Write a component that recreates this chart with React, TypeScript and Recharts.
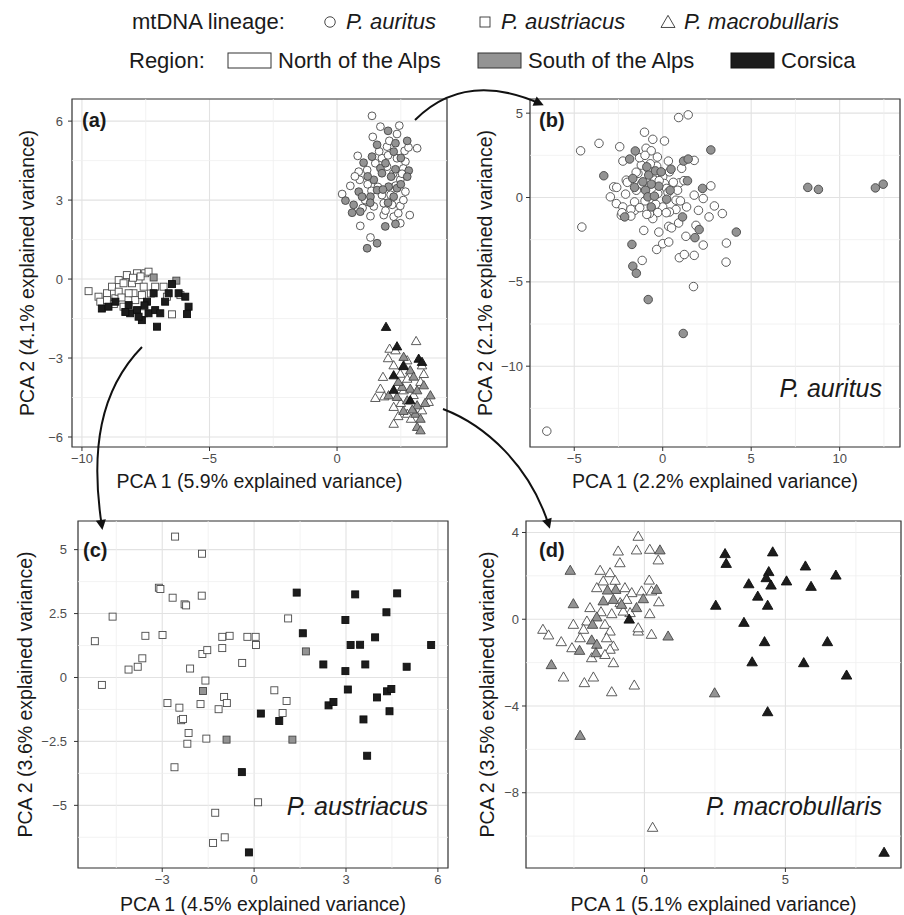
import React from 'react';
import {
  ScatterChart,
  Scatter,
  XAxis,
  YAxis,
  CartesianGrid,
  ReferenceLine,
  ReferenceArea,
  Label,
} from 'recharts';

type P = [number, number];

// ---------- Panel (a): all individuals ----------
const aXDomain: P = [-10.39, 4.31];
const aYDomain: P = [-6.38, 6.84];
const aXTicks = [-10, -5, 0];
const aXMinor = [-7.5, -2.5, 2.5];
const aYTicks = [-6, -3, 0, 3, 6];
const aYMinor = [-4.5, -1.5, 1.5, 4.5];

const aAuritusNorth: P[] = [
  [1.37, 6.2], [1.7, 5.79], [2.44, 5.83], [2.35, 5.51], [1.96, 5.03], [3.14, 4.97], [2.65, 4.87],
  [0.81, 4.68], [1.76, 4.59], [2.35, 4.59], [2.68, 4.46], [0.85, 4.08], [1.18, 4.14], [1.96, 4.27],
  [2.48, 3.77], [0.89, 3.77], [0.52, 3.54], [2.68, 3.32], [0.2, 3.23], [1.76, 3.19], [1.18, 2.94],
  [1.44, 2.76], [1.83, 2.88], [2.16, 2.82], [2.48, 2.78], [1.31, 2.39], [1.83, 2.43], [2.22, 2.37],
  [2.85, 2.43], [0.91, 2.02], [2.48, 2.12], [1.31, 1.58], [1.5, 4.4], [2.0, 4.7], [2.6, 4.2],
  [1.2, 3.6], [1.6, 3.5], [2.1, 3.2], [2.6, 3.0], [1.0, 2.7], [1.9, 2.6], [2.2, 4.0], [1.4, 5.4],
  [2.8, 5.0], [1.1, 3.0], [2.4, 2.5], [0.7, 3.9], [2.05, 5.25], [1.65, 4.85], [2.55, 4.0],
  [1.35, 3.35], [2.3, 3.55],
];
const aAuritusSouth: P[] = [
  [2.0, 5.63], [2.75, 5.25], [1.57, 5.1], [2.29, 5.16], [2.22, 4.84], [1.04, 4.42], [1.37, 4.65],
  [1.7, 4.21], [2.29, 4.17], [2.81, 4.12], [1.44, 3.77], [1.76, 4.02], [2.12, 3.89], [2.75, 3.89],
  [1.57, 3.38], [2.02, 3.51], [2.35, 3.45], [0.85, 3.32], [0.33, 2.98], [0.98, 3.13], [1.31, 3.13],
  [2.22, 3.13], [0.65, 2.82], [0.59, 2.52], [0.91, 2.56], [1.89, 2.0], [2.29, 2.09], [1.57, 1.36],
  [1.18, 1.17], [1.9, 4.4], [2.5, 4.6], [1.2, 3.9], [1.8, 3.4], [2.5, 3.6], [1.3, 2.9], [2.0, 2.9],
];
const aAustriacusNorth: P[] = [
  [-9.74, -0.46], [-9.35, -0.67], [-9.28, -0.86], [-9.02, -0.54], [-8.82, -0.29], [-8.69, -0.73],
  [-8.56, -0.04], [-8.37, -0.16], [-8.24, 0.15], [-8.37, -1.05], [-8.04, -0.16], [-7.98, -0.54],
  [-7.91, -0.8], [-7.84, 0.22], [-7.78, -0.04], [-7.58, -0.29], [-7.52, 0.22], [-7.39, 0.28],
  [-7.65, -0.61], [-7.58, -1.3], [-7.13, -0.29], [-6.8, -0.29], [-6.67, -0.67], [-6.47, -1.34],
  [-6.14, -0.61], [-8.17, -0.54], [-8.56, -0.48], [-9.02, -0.8], [-8.75, -0.95], [-8.0, 0.05],
  [-7.7, 0.1], [-8.45, -0.7], [-7.3, -0.55],
];
const aAustriacusSouth: P[] = [[-7.19, 0.06], [-6.3, -0.06]];
const aAustriacusCorsica: P[] = [
  [-9.22, -1.12], [-8.96, -1.05], [-8.69, -0.86], [-8.11, -1.3], [-7.84, -1.18], [-7.65, -1.56],
  [-7.45, -0.86], [-7.39, -1.3], [-7.13, -1.18], [-7.06, -1.81], [-6.74, -0.86], [-6.47, -0.19],
  [-6.21, -0.54], [-5.95, -0.67], [-5.82, -1.05], [-5.88, -1.33], [-7.19, -0.54], [-8.17, -0.99],
  [-7.78, -1.43], [-6.93, -1.3], [-6.6, -0.54], [-7.55, -1.0], [-8.3, -1.25],
];
const aMacroNorth: P[] = [
  [2.06, -2.64], [2.29, -2.7], [3.1, -2.35], [2.75, -3.08], [3.33, -3.27], [2.22, -3.27], [1.8, -3.71],
  [2.48, -3.59], [2.75, -3.78], [1.7, -4.16], [1.5, -4.51], [2.61, -4.22], [3.27, -3.9], [3.59, -4.66],
  [2.22, -4.85], [2.75, -5.11], [3.33, -4.98], [2.22, -5.49], [2.5, -4.7], [3.0, -4.4], [2.0, -3.0],
  [2.9, -5.3], [2.4, -5.2], [3.4, -3.6], [1.85, -4.45],
];
const aMacroSouth: P[] = [
  [2.61, -2.95], [2.61, -3.27], [2.87, -3.46], [2.55, -4.09], [2.02, -4.41], [2.35, -4.47],
  [2.87, -4.16], [3.14, -4.22], [3.4, -4.03], [3.66, -4.41], [2.75, -4.6], [3.14, -4.79],
  [3.07, -5.11], [3.27, -5.3], [3.14, -5.61], [3.27, -5.74], [2.4, -3.9], [3.0, -3.7], [2.6, -5.0],
  [2.95, -4.95], [3.45, -4.7],
];
const aMacroCorsica: P[] = [
  [1.92, -1.81], [2.35, -2.55], [3.2, -3.02], [3.33, -3.14], [2.22, -3.65], [2.22, -4.2], [2.87, -4.6],
  [2.6, -3.3],
];

// ---------- Panel (b): P. auritus ----------
const bXDomain: P = [-7.5, 13.41];
const bYDomain: P = [-14.79, 5.84];
const bXTicks = [-5, 0, 5, 10];
const bXMinor = [-2.5, 2.5, 7.5, 12.5];
const bYTicks = [-10, -5, 0, 5];
const bYMinor = [-12.5, -7.5, -2.5, 2.5];

const bAuritusNorth: P[] = [
  [-6.55, -13.85], [-4.64, 2.77], [-3.6, 3.21], [-4.57, -1.75], [-2.43, 3.01], [-2.25, 2.16],
  [-1.03, 3.87], [-0.56, 3.45], [0.1, 3.35], [0.9, 4.74], [1.44, 4.9], [-2.06, 1.03], [-2.77, 0.63],
  [-2.96, 0.04], [-2.62, -0.36], [-1.07, -1.95], [-1.16, -3.73], [-0.34, -3.08], [-0.22, -2.05],
  [0.34, -1.71], [0.94, -3.57], [0.9, -1.51], [1.31, -2.3], [1.78, -3.43], [1.74, -5.28],
  [1.88, -1.65], [2.29, -2.82], [2.02, -0.76], [2.29, -0.06], [1.78, 0.14], [2.72, 0.69],
  [2.92, -0.5], [2.62, -1.15], [3.37, -0.95], [3.6, -2.7], [3.58, -3.83], [1.78, 2.2], [0.94, 0.87],
  [1.07, 1.73], [0.32, 2.16], [0.38, 1.52], [1.35, -0.56], [0.84, 0.43], [0.75, -0.16],
  [0.75, -0.71], [0.0, -0.56], [-0.28, -0.89], [-0.56, -1.25], [-1.59, -0.26], [-1.49, 0.43],
  [-1.21, 1.92], [-0.34, 1.86], [-0.47, 1.03], [-0.94, 2.92], [-0.65, 2.77], [-1.31, 2.36],
  [-2.25, -0.56], [-2.34, -1.05], [-1.59, -0.76], [0.0, -2.74], [0.34, -2.64], [1.22, -3.38],
  [0.38, -0.86], [-0.75, -0.95], [-1.03, -0.6], [-1.4, 1.43], [-0.84, 1.73], [0.0, 1.23],
  [0.1, 0.83], [0.22, 0.54], [-0.28, 0.24], [-1.5, 1.5], [-2.0, 0.9], [-1.0, 2.5], [-0.7, 2.0],
  [-0.2, 1.0], [0.3, 0.3], [-1.3, -0.6], [-2.3, -0.9], [-1.8, -0.7], [-0.9, -1.0], [0.6, 0.9],
  [-2.6, 0.6], [-1.2, 0.8], [-0.4, -0.4], [0.2, -0.9], [-1.0, -0.2], [-0.3, 2.4], [-2.1, 0.2],
  [1.2, 1.0], [1.0, -0.2], [0.5, -1.8], [-1.8, -1.1],
];
const bAuritusSouth: P[] = [
  [-3.33, 1.29], [-1.87, 2.28], [-1.55, 2.76], [-0.9, 1.82], [-1.69, 1.13], [-1.59, 0.6],
  [-1.12, 0.93], [-0.79, 1.33], [-0.41, 1.58], [-0.09, 1.52], [0.47, 1.68], [1.18, 2.16],
  [1.44, 2.28], [2.72, 2.82], [1.4, 0.99], [2.25, 0.54], [0.42, 0.43], [-0.22, 0.67], [-0.65, 0.79],
  [-0.97, 0.43], [-0.84, 0.04], [-0.47, 0.08], [-0.65, -0.56], [0.22, -0.1], [-2.15, -1.15],
  [1.12, -1.15], [2.06, -1.9], [1.82, -2.38], [4.16, -2.05], [-1.74, -2.78], [-1.69, -4.07],
  [-1.49, -4.49], [-0.82, -6.05], [1.16, -8.06], [8.2, 0.6], [8.8, 0.48], [12.02, 0.57],
  [12.46, 0.79],
];

// ---------- Panel (c): P. austriacus ----------
const cXDomain: P = [-5.75, 6.33];
const cYDomain: P = [-7.45, 6.12];
const cXTicks = [-3, 0, 3, 6];
const cXMinor = [-4.5, -1.5, 1.5, 4.5];
const cYTicks = [-5, -2.5, 0, 2.5, 5];
const cYMinor = [-6.25, -3.75, -1.25, 1.25, 3.75];

const cAustriacusNorth: P[] = [
  [-2.58, 5.51], [-1.7, 4.84], [-3.11, 3.51], [-3.06, 3.46], [-2.66, 3.12], [-2.27, 2.86],
  [-2.22, 2.82], [-1.71, 3.2], [-4.62, 2.38], [-5.2, 1.42], [-3.55, 1.63], [-2.99, 1.66],
  [-3.65, 0.75], [-3.8, 0.42], [-4.1, 0.31], [-4.97, -0.29], [-2.09, 0.35], [-1.69, 0.92],
  [-1.53, 1.07], [-1.59, -0.12], [-2.83, -1.0], [-2.44, -1.18], [-2.38, -1.67], [-2.32, -1.62],
  [-2.14, -2.17], [-2.18, -2.59], [-1.75, -1.04], [-1.56, -2.39], [-2.6, -3.51], [-1.04, 1.59],
  [-0.8, 1.63], [-1.04, 1.15], [-0.39, 0.57], [-0.22, 1.59], [0.05, 1.59], [0.06, 1.27],
  [-1.16, -1.24], [-0.98, -0.76], [-0.89, -1.0], [1.11, 2.31], [0.66, -0.5], [1.06, -0.92],
  [0.93, -1.39], [0.13, -4.88], [-1.27, -5.29], [-1.34, -6.47], [-0.96, -6.25],
];
const cAustriacusSouth: P[] = [[-1.67, -0.53], [-0.9, -2.43], [1.69, 1.02], [1.25, -2.43]];
const cAustriacusCorsica: P[] = [
  [1.39, 3.32], [1.59, 1.73], [0.22, -1.41], [0.82, -1.7], [-0.4, -3.7], [-0.17, -6.84], [2.26, 0.51],
  [2.98, 2.25], [3.3, 3.25], [4.67, 3.29], [4.32, 2.55], [3.15, 1.27], [3.46, 1.28], [3.95, 1.57],
  [5.78, 1.27], [2.98, 0.25], [3.63, 0.51], [4.98, 0.42], [3.06, -0.47], [2.43, -1.09],
  [2.59, -0.96], [4.01, -0.78], [4.34, -0.54], [4.48, -0.45], [4.42, -1.32], [3.57, -1.64],
  [3.69, -3.06],
];

// ---------- Panel (d): P. macrobullaris ----------
const dXDomain: P = [-4.2, 9.1];
const dYDomain: P = [-11.47, 4.53];
const dXTicks = [0, 5];
const dXMinor = [-2.5, 2.5, 7.5];
const dYTicks = [-8, -4, 0, 4];
const dYMinor = [-10, -6, -2, 2];

const dMacroNorth: P[] = [
  [-0.22, 3.83], [-0.93, 3.15], [-0.28, 3.2], [0.19, 3.23], [0.49, 2.74], [-0.87, 2.61], [-1.57, 2.26],
  [-1.22, 2.15], [-1.46, 1.77], [-1.04, 1.8], [-1.69, 1.46], [-0.69, 1.46], [-0.45, 1.23],
  [-0.1, 1.31], [0.17, 1.81], [0.25, 1.31], [0.51, 0.81], [0.19, 0.26], [-1.93, 0.54], [-2.04, -0.08],
  [-1.54, 0.35], [-1.16, 0.26], [-1.4, -0.23], [-2.52, -0.23], [-2.16, -0.46], [-3.6, -0.46],
  [-3.4, -0.72], [-2.95, -1.03], [-2.57, -1.31], [-2.28, -0.85], [-1.22, -0.54], [-1.34, -0.85],
  [-1.1, -1.23], [-1.22, -1.38], [-1.4, -1.62], [-1.87, -1.77], [-1.1, -2.0], [-2.87, -2.66],
  [-2.13, -2.92], [-1.81, -2.66], [-1.16, -3.34], [-0.36, -3.03], [-0.22, -0.54], [0.25, -0.69],
  [-0.51, 0.31], [-0.75, 0.38], [-0.86, 0.77], [-0.63, 0.92], [-0.22, -0.39], [0.29, -9.59],
];
const dMacroSouth: P[] = [
  [-2.63, 2.26], [-2.52, 0.72], [-3.3, -2.09], [-2.28, -5.35], [0.55, 3.2], [0.43, 1.38], [-0.04, 0.95],
  [-0.28, 0.54], [-0.81, 0.69], [-1.02, 1.38], [-1.31, 1.35], [-1.1, 0.92], [-1.46, 0.85],
  [-1.69, 0.11], [-1.84, -0.23], [-1.87, -0.95], [-1.69, -1.15], [-1.72, -1.54], [-2.3, -1.43],
  [0.84, -0.77], [2.49, -3.39],
];
const dMacroCorsica: P[] = [
  [2.86, 3.03], [2.9, 2.58], [4.55, 3.11], [5.71, 2.46], [6.79, 2.04], [3.7, 1.64], [4.41, 2.2],
  [4.32, 1.92], [4.49, 1.58], [5.04, 1.77], [5.91, 1.52], [4.02, 1.07], [4.37, 0.65], [2.53, 0.65],
  [3.53, -0.14], [4.26, -1.03], [6.49, -1.03], [3.82, -1.96], [5.65, -2.0], [7.17, -2.57],
  [4.37, -4.26], [-0.54, 0.01], [8.5, -10.74],
];

// ---------- styling ----------
const FONT = '"Liberation Sans", Arial, Helvetica, sans-serif';
type Region = 'north' | 'south' | 'corsica';
type Kind = 'circle' | 'square' | 'triangle';
const FILL: Record<Region, string> = { north: '#ffffff', south: '#939393', corsica: '#1c1c1c' };
const STROKE: Record<Region, string> = { north: '#4a4a4a', south: '#454545', corsica: '#0e0e0e' };

const toPts = (arr: P[]) => arr.map(([x, y]) => ({ x, y }));
const fmt = (v: number) => String(v).replace('-', '\u2212');

function Glyph({ kind, cx, cy, size, fill, stroke }: { kind: Kind; cx: number; cy: number; size: number; fill: string; stroke: string }) {
  if (kind === 'circle') {
    return <circle cx={cx} cy={cy} r={size / 2} fill={fill} stroke={stroke} strokeWidth={0.9} />;
  }
  if (kind === 'square') {
    return <rect x={cx - size / 2} y={cy - size / 2} width={size} height={size} fill={fill} stroke={stroke} strokeWidth={0.9} />;
  }
  const h = size * 0.866;
  return (
    <polygon
      points={`${cx},${cy - h * 0.55} ${cx - size / 2},${cy + h * 0.45} ${cx + size / 2},${cy + h * 0.45}`}
      fill={fill}
      stroke={stroke}
      strokeWidth={0.9}
      strokeLinejoin="miter"
    />
  );
}

const makeShape = (kind: Kind, region: Region, size: number) => (props: any) => {
  const { cx, cy } = props;
  if (cx == null || cy == null) return <g />;
  return <Glyph kind={kind} cx={cx} cy={cy} size={size} fill={FILL[region]} stroke={STROKE[region]} />;
};

type Series = { data: P[]; kind: Kind; region: Region; size: number };

type PanelProps = {
  left: number;
  top: number;
  width: number;
  height: number;
  margin: { top: number; right: number; bottom: number; left: number };
  yAxisWidth: number;
  xAxisHeight: number;
  xDomain: P;
  yDomain: P;
  xTicks: number[];
  yTicks: number[];
  xMinor: number[];
  yMinor: number[];
  xTitle: string;
  yTitle: string;
  xTitleOffset: number;
  yTitleOffset: number;
  yTickMargin: number;
  series: Series[];
};

function Panel(p: PanelProps) {
  const tickStyle = { fill: '#4d4d4d', fontSize: 13, fontFamily: FONT };
  const titleStyle = { fill: '#1a1a1a', fontSize: 19.5, fontFamily: FONT };
  return (
    <div style={{ position: 'absolute', left: p.left, top: p.top }}>
      <ScatterChart width={p.width} height={p.height} margin={p.margin} style={{ fontFamily: FONT }}>
        <CartesianGrid stroke="#e2e2e2" strokeWidth={1.1} />
        {p.xMinor.map((v) => (
          <ReferenceLine key={`xm${v}`} x={v} stroke="#efefef" strokeWidth={0.8} />
        ))}
        {p.yMinor.map((v) => (
          <ReferenceLine key={`ym${v}`} y={v} stroke="#efefef" strokeWidth={0.8} />
        ))}
        <XAxis
          type="number"
          dataKey="x"
          domain={p.xDomain}
          ticks={p.xTicks}
          interval={0}
          allowDataOverflow
          tickFormatter={fmt}
          axisLine={false}
          tickLine={{ stroke: '#333333' }}
          tickSize={4}
          tickMargin={3}
          tick={tickStyle}
          height={p.xAxisHeight}
        >
          <Label value={p.xTitle} position="insideBottom" offset={p.xTitleOffset} style={titleStyle} />
        </XAxis>
        <YAxis
          type="number"
          dataKey="y"
          domain={p.yDomain}
          ticks={p.yTicks}
          interval={0}
          allowDataOverflow
          tickFormatter={fmt}
          axisLine={false}
          tickLine={{ stroke: '#333333' }}
          tickSize={4}
          tickMargin={p.yTickMargin}
          tick={tickStyle}
          width={p.yAxisWidth}
        >
          <Label
            value={p.yTitle}
            angle={-90}
            position="insideLeft"
            offset={p.yTitleOffset}
            style={{ ...titleStyle, textAnchor: 'middle' }}
          />
        </YAxis>
        {p.series.map((s, i) => (
          <Scatter
            key={i}
            data={toPts(s.data)}
            shape={makeShape(s.kind, s.region, s.size)}
            isAnimationActive={false}
          />
        ))}
        <ReferenceArea
          x1={p.xDomain[0]}
          x2={p.xDomain[1]}
          y1={p.yDomain[0]}
          y2={p.yDomain[1]}
          fill="none"
          fillOpacity={0}
          stroke="#3a3a3a"
          strokeWidth={1.2}
        />
      </ScatterChart>
    </div>
  );
}

function Overlay() {
  const txt = { fontFamily: FONT, fill: '#1a1a1a' };
  return (
    <svg
      width={904}
      height={915}
      style={{ position: 'absolute', left: 0, top: 0, pointerEvents: 'none', zIndex: 10 }}
    >
      <defs>
        <marker
          id="arrowHead"
          viewBox="0 0 10 10"
          refX="7"
          refY="5"
          markerWidth="11"
          markerHeight="10"
          markerUnits="userSpaceOnUse"
          orient="auto"
        >
          <path d="M0,0 L10,5 L0,10 z" fill="#111" />
        </marker>
      </defs>
      {/* legend row 1 */}
      <text x={132} y={29} fontSize={22} {...txt}>mtDNA lineage:</text>
      <Glyph kind="circle" cx={330} cy={22} size={10.5} fill="#fff" stroke="#333" />
      <text x={346} y={29} fontSize={22} fontStyle="italic" {...txt}>P. auritus</text>
      <Glyph kind="square" cx={485} cy={22} size={10} fill="#fff" stroke="#333" />
      <text x={501} y={29} fontSize={22} fontStyle="italic" {...txt}>P. austriacus</text>
      <Glyph kind="triangle" cx={668} cy={22} size={14} fill="#fff" stroke="#333" />
      <text x={684} y={29} fontSize={22} fontStyle="italic" {...txt}>P. macrobullaris</text>
      {/* legend row 2 */}
      <text x={129} y={68} fontSize={22} {...txt}>Region:</text>
      <rect x={228} y={53} width={43} height={15} fill="#ffffff" stroke="#333" strokeWidth={1} />
      <text x={278} y={68} fontSize={22} {...txt}>North of the Alps</text>
      <rect x={478} y={53} width={43} height={15} fill="#939393" stroke="#333" strokeWidth={1} />
      <text x={528} y={68} fontSize={22} {...txt}>South of the Alps</text>
      <rect x={731} y={53} width={43} height={15} fill="#1c1c1c" stroke="#111" strokeWidth={1} />
      <text x={781} y={68} fontSize={22} {...txt}>Corsica</text>
      {/* panel tags */}
      <text x={82} y={127} fontSize={20} fontWeight="bold" {...txt}>(a)</text>
      <text x={539} y={127} fontSize={20} fontWeight="bold" {...txt}>(b)</text>
      <text x={83} y={557} fontSize={20} fontWeight="bold" {...txt}>(c)</text>
      <text x={539} y={557} fontSize={20} fontWeight="bold" {...txt}>(d)</text>
      {/* species names */}
      <text x={882} y={397} fontSize={25} fontStyle="italic" textAnchor="end" {...txt}>P. auritus</text>
      <text x={428} y={815} fontSize={25} fontStyle="italic" textAnchor="end" {...txt}>P. austriacus</text>
      <text x={882} y={815} fontSize={25} fontStyle="italic" textAnchor="end" {...txt}>P. macrobullaris</text>
      {/* arrows */}
      <path d="M415,120 Q465,70 541,104" fill="none" stroke="#111" strokeWidth={2} markerEnd="url(#arrowHead)" />
      <path d="M142,347 C100,390 90,450 102,527" fill="none" stroke="#111" strokeWidth={2} markerEnd="url(#arrowHead)" />
      <path d="M443,409 C485,425 530,465 549,526" fill="none" stroke="#111" strokeWidth={2} markerEnd="url(#arrowHead)" />
    </svg>
  );
}

export default function App() {
  const A: Series[] = [
    { data: aAuritusNorth, kind: 'circle', region: 'north', size: 7.8 },
    { data: aAuritusSouth, kind: 'circle', region: 'south', size: 7.8 },
    { data: aAustriacusNorth, kind: 'square', region: 'north', size: 7 },
    { data: aAustriacusSouth, kind: 'square', region: 'south', size: 7 },
    { data: aAustriacusCorsica, kind: 'square', region: 'corsica', size: 7 },
    { data: aMacroNorth, kind: 'triangle', region: 'north', size: 9.5 },
    { data: aMacroSouth, kind: 'triangle', region: 'south', size: 9.5 },
    { data: aMacroCorsica, kind: 'triangle', region: 'corsica', size: 9.5 },
  ];
  const B: Series[] = [
    { data: bAuritusNorth, kind: 'circle', region: 'north', size: 8.5 },
    { data: bAuritusSouth, kind: 'circle', region: 'south', size: 8.5 },
  ];
  const C: Series[] = [
    { data: cAustriacusNorth, kind: 'square', region: 'north', size: 7 },
    { data: cAustriacusSouth, kind: 'square', region: 'south', size: 7 },
    { data: cAustriacusCorsica, kind: 'square', region: 'corsica', size: 7 },
  ];
  const D: Series[] = [
    { data: dMacroNorth, kind: 'triangle', region: 'north', size: 10.5 },
    { data: dMacroSouth, kind: 'triangle', region: 'south', size: 10.5 },
    { data: dMacroCorsica, kind: 'triangle', region: 'corsica', size: 10.5 },
  ];
  return (
    <div style={{ position: 'absolute', left: 0, top: 0, width: 904, height: 915, background: '#fff', fontFamily: FONT }}>
      <Panel
        left={0} top={80} width={452} height={415}
        margin={{ top: 19, right: 5, bottom: 0, left: 0 }}
        yAxisWidth={72} xAxisHeight={48}
        xDomain={aXDomain} yDomain={aYDomain}
        xTicks={aXTicks} yTicks={aYTicks} xMinor={aXMinor} yMinor={aYMinor}
        xTitle="PCA 1 (5.9% explained variance)" yTitle="PCA 2 (4.1% explained variance)"
        xTitleOffset={7} yTitleOffset={27} yTickMargin={5}
        series={A}
      />
      <Panel
        left={452} top={80} width={452} height={415}
        margin={{ top: 19, right: 4, bottom: 0, left: 0 }}
        yAxisWidth={78} xAxisHeight={48}
        xDomain={bXDomain} yDomain={bYDomain}
        xTicks={bXTicks} yTicks={bYTicks} xMinor={bXMinor} yMinor={bYMinor}
        xTitle="PCA 1 (2.2% explained variance)" yTitle="PCA 2 (2.1% explained variance)"
        xTitleOffset={7} yTitleOffset={33.5} yTickMargin={3}
        series={B}
      />
      <Panel
        left={0} top={500} width={452} height={415}
        margin={{ top: 21, right: 4, bottom: 0, left: 0 }}
        yAxisWidth={78} xAxisHeight={47}
        xDomain={cXDomain} yDomain={cYDomain}
        xTicks={cXTicks} yTicks={cYTicks} xMinor={cXMinor} yMinor={cYMinor}
        xTitle="PCA 1 (4.5% explained variance)" yTitle="PCA 2 (3.6% explained variance)"
        xTitleOffset={4} yTitleOffset={25} yTickMargin={7}
        series={C}
      />
      <Panel
        left={452} top={500} width={452} height={415}
        margin={{ top: 21, right: 3, bottom: 0, left: 0 }}
        yAxisWidth={74} xAxisHeight={47}
        xDomain={dXDomain} yDomain={dYDomain}
        xTicks={dXTicks} yTicks={dYTicks} xMinor={dXMinor} yMinor={dYMinor}
        xTitle="PCA 1 (5.1% explained variance)" yTitle="PCA 2 (3.5% explained variance)"
        xTitleOffset={4} yTitleOffset={35} yTickMargin={3}
        series={D}
      />
      <Overlay />
    </div>
  );
}
